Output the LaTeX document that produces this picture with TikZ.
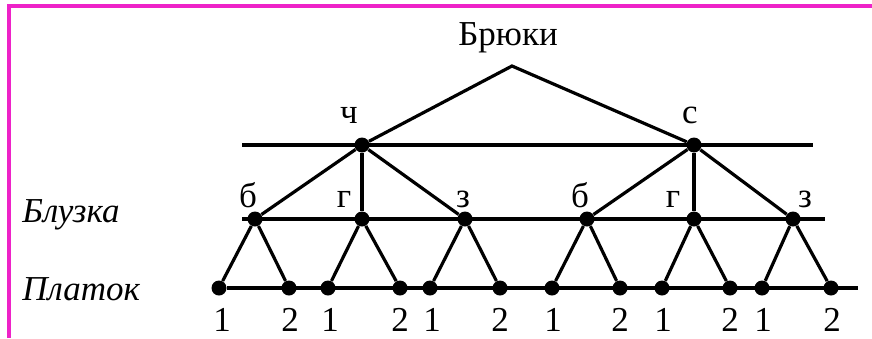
\documentclass[tikz,border=0pt]{standalone}
\usepackage{fontspec}
\setmainfont{Liberation Serif}
\usepackage{tikz}
\usetikzlibrary{positioning}
\definecolor{framepink}{RGB}{238,34,200}
\tikzset{
  dot/.style={circle, fill=black, inner sep=0pt, minimum size=7.5pt},
  lbl/.style={inner sep=0pt, anchor=base, font=\fontsize{17.5}{20}\selectfont},
  lvl/.style={inner sep=0pt, anchor=base west, font=\fontsize{17.5}{20}\selectfont\itshape},
  edge/.style={line width=1.6pt}
}

\begin{document}
\begin{tikzpicture}[x=0.5pt, y=-0.5pt]
    \useasboundingbox (0,0) rectangle (872,338);

    % Frame
    \coordinate (fa) at (9,338);
    \coordinate (fb) at (9,6);
    \coordinate (fc) at (872,6);
    \draw[framepink, line width=1.6pt] (fa) -- (fb) -- (fc);

    % Titles
    \node (pants) at (508,45) [lbl] {Брюки};
    \node (blouse) at (22,222) [lvl] {Блузка};
    \node (scarf) at (22,300) [lvl] {Платок};

    % Nodes
    \coordinate (top) at (512,66);
    \node (ch) at (362,145) [dot] {};
    \node (s) at (694,145) [dot] {};

    \node (b1) at (255,219) [dot] {};
    \node (g1) at (362,219) [dot] {};
    \node (z1) at (465,219) [dot] {};
    \node (b2) at (587,219) [dot] {};
    \node (g2) at (694,219) [dot] {};
    \node (z2) at (793,219) [dot] {};

    \node (p1) at (219,288) [dot] {};
    \node (p2) at (289,288) [dot] {};
    \node (p3) at (328,288) [dot] {};
    \node (p4) at (400,288) [dot] {};
    \node (p5) at (430,288) [dot] {};
    \node (p6) at (500,288) [dot] {};
    \node (p7) at (552,288) [dot] {};
    \node (p8) at (620,288) [dot] {};
    \node (p9) at (662,288) [dot] {};
    \node (p10) at (730,288) [dot] {};
    \node (p11) at (762,288) [dot] {};
    \node (p12) at (831,288) [dot] {};

    % Labels
    \node (lch) at (349,123) [lbl] {ч};
    \node (ls) at (690,123) [lbl] {с};

    \node (lb1) at (248,207) [lbl] {б};
    \node (lg1) at (344,207) [lbl] {г};
    \node (lz1) at (463,207) [lbl] {з};
    \node (lb2) at (580,207) [lbl] {б};
    \node (lg2) at (673,207) [lbl] {г};
    \node (lz2) at (805,207) [lbl] {з};

    \node (n1) at (222,331) [lbl] {1};
    \node (n2) at (290,331) [lbl] {2};
    \node (n3) at (330,331) [lbl] {1};
    \node (n4) at (400,331) [lbl] {2};
    \node (n5) at (432,331) [lbl] {1};
    \node (n6) at (500,331) [lbl] {2};
    \node (n7) at (553,331) [lbl] {1};
    \node (n8) at (620,331) [lbl] {2};
    \node (n9) at (663,331) [lbl] {1};
    \node (n10) at (730,331) [lbl] {2};
    \node (n11) at (763,331) [lbl] {1};
    \node (n12) at (832,331) [lbl] {2};

    % Level lines
    \coordinate (la) at (242,145);
    \coordinate (lb) at (813,145);
    \coordinate (ma) at (242,219);
    \coordinate (mb) at (825,219);
    \coordinate (nb) at (858,288);
    \draw[edge] (la) -- (lb);
    \draw[edge] (ma) -- (mb);
    \draw[edge] (p1) -- (nb);

    % Edges
    \draw[edge] (ch) -- (top) -- (s);

    \draw[edge] (ch) -- (b1);
    \draw[edge] (ch) -- (g1);
    \draw[edge] (ch) -- (z1);
    \draw[edge] (s) -- (b2);
    \draw[edge] (s) -- (g2);
    \draw[edge] (s) -- (z2);

    \draw[edge] (p1) -- (b1) -- (p2);
    \draw[edge] (p3) -- (g1) -- (p4);
    \draw[edge] (p5) -- (z1) -- (p6);
    \draw[edge] (p7) -- (b2) -- (p8);
    \draw[edge] (p9) -- (g2) -- (p10);
    \draw[edge] (p11) -- (z2) -- (p12);

\end{tikzpicture}
\end{document}
